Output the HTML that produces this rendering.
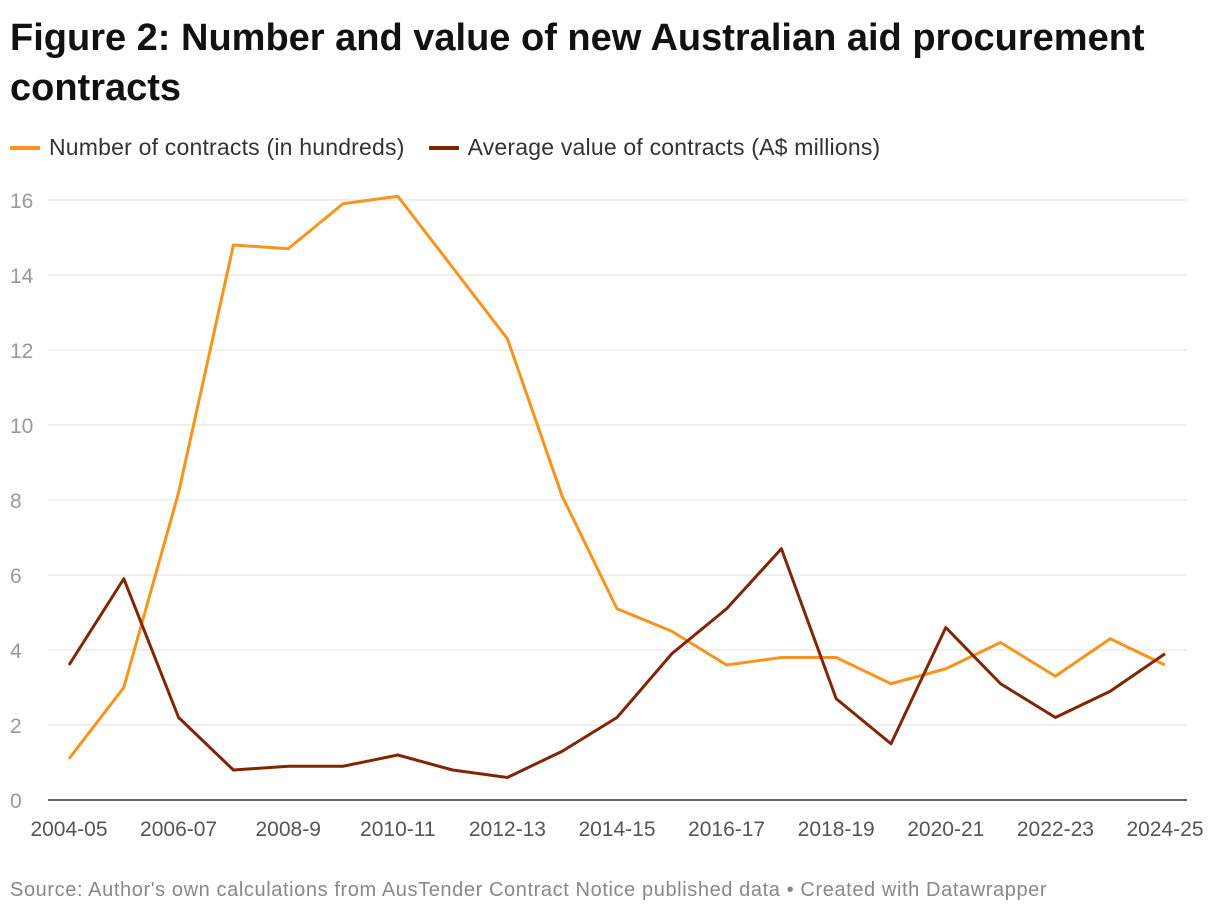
<!DOCTYPE html>
<html><head><meta charset="utf-8"><style>
body{margin:0;background:#fff;width:1220px;height:916px;overflow:hidden;font-family:"Liberation Sans",sans-serif;}
h1{position:absolute;left:10px;top:13px;margin:0;font-size:38px;line-height:50px;font-weight:bold;color:#111;width:1200px;}
.legend{position:absolute;top:134px;left:10px;font-size:23px;color:#333;display:flex;gap:24px;letter-spacing:0.2px;}
.legend span{display:flex;align-items:center;}
.legend i{display:inline-block;width:30px;height:4px;margin-right:9px;}
.src{position:absolute;left:10px;top:879px;font-size:20px;letter-spacing:0.6px;color:#888;white-space:nowrap;}
</style></head><body>
<h1>Figure 2: Number and value of new Australian aid procurement contracts</h1>
<div class="legend">
<span><i style="background:#f7941d"></i>Number of contracts (in hundreds)</span>
<span><i style="background:#7f2704"></i>Average value of contracts (A$ millions)</span>
</div>
<svg id="chart" width="1220" height="916" style="position:absolute;left:0;top:0"></svg>
<div class="src">Source: Author's own calculations from AusTender Contract Notice published data • Created with Datawrapper</div>
<script>
const years = ["2004-05","2005-06","2006-07","2007-08","2008-9","2009-10","2010-11","2011-12","2012-13","2013-14","2014-15","2015-16","2016-17","2017-18","2018-19","2019-20","2020-21","2021-22","2022-23","2023-24","2024-25"];
const numberContracts = [1.1,3.0,8.2,14.8,14.7,15.9,16.1,14.2,12.3,8.1,5.1,4.5,3.6,3.8,3.8,3.1,3.5,4.2,3.3,4.3,3.6];
const avgValue = [3.6,5.9,2.2,0.8,0.9,0.9,1.2,0.8,0.6,1.3,2.2,3.9,5.1,6.7,2.7,1.5,4.6,3.1,2.2,2.9,3.9];
const yTicks = [0,2,4,6,8,10,12,14,16];
const NS="http://www.w3.org/2000/svg";
const svg=document.getElementById('chart');
const x0=69,x1=1165,y0=800,y1=200,yMax=16;
const xs=i=>x0+(x1-x0)*i/(years.length-1);
const ys=v=>y0-(y0-y1)*v/yMax;
function mk(t,a){const e=document.createElementNS(NS,t);for(const k in a)e.setAttribute(k,a[k]);svg.appendChild(e);return e;}
yTicks.forEach(v=>{
  if(v>0){const g=mk('line',{x1:48,x2:1187,y1:ys(v),y2:ys(v),stroke:'#e0e0e0','stroke-width':1});
  
  }
  const t=mk('text',{x:10,y:ys(v)+8,'font-size':21,fill:'#999','font-family':'Liberation Sans'});
  t.textContent=v;
  
  
});
const ax=mk('line',{x1:48,x2:1187,y1:y0,y2:y0,stroke:'#333','stroke-width':1.5});


years.forEach((y,i)=>{
  if(i%2)return;
  const t=mk('text',{x:xs(i),y:836,'font-size':21,fill:'#555','text-anchor':'middle','font-family':'Liberation Sans'});
  t.textContent=y;
  
  
});
function line(data,color,name){
  const d=data.map((v,i)=>(i?'L':'M')+xs(i)+','+ys(v)).join(' ');
  const p=mk('path',{d:d,fill:'none',stroke:color,'stroke-width':3,'stroke-linejoin':'round'});
  
  
}
line(numberContracts,'#f7941d','number-of-contracts-line');
line(avgValue,'#7f2704','average-value-line');
</script>
</body></html>
